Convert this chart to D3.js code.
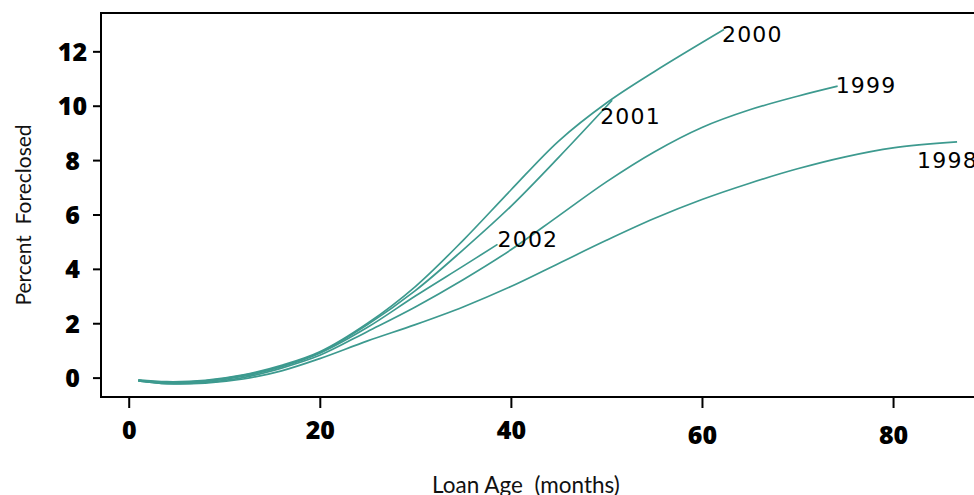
<!DOCTYPE html>
<html>
<head>
<meta charset="utf-8">
<script src="https://cdn.jsdelivr.net/npm/d3@7"></script>
<style>
  body { margin: 0; background: #fff; }
  svg { display: block; }
  .tick text { font-family: "Open Sans", Lato, sans-serif; font-weight: 800; font-size: 25px; fill: #000; }
  .tick line { stroke: #000; stroke-width: 2; }
  .axisTitle { font-family: Lato, "Open Sans", sans-serif; fill: #111; white-space: pre; }
  .seriesLabel { font-family: "DejaVu Sans", sans-serif; font-size: 22px; fill: #000; letter-spacing: 1.2px; }
</style>
</head>
<body>
<div id="chart"></div>
<script>
var svgWidth = 974;
var svgHeight = 495;

// loan age (months) and percent foreclosed
var years = ["1998", "1999", "2000", "2001", "2002"];

var age1998 = [1, 4, 8, 12, 16, 20, 25, 30, 35, 40, 45, 50, 55, 60, 65, 70, 75, 80, 86.7];
var pct1998 = [-0.12, -0.22, -0.2, -0.05, 0.25, 0.7, 1.35, 1.95, 2.6, 3.35, 4.2, 5.05, 5.85, 6.55, 7.15, 7.68, 8.12, 8.45, 8.67];

var age1999 = [1, 4, 8, 12, 16, 20, 25, 30, 35, 40, 45, 50, 55, 60, 65, 70, 74.2];
var pct1999 = [-0.12, -0.22, -0.18, 0.0, 0.35, 0.82, 1.7, 2.6, 3.6, 4.7, 5.95, 7.2, 8.3, 9.2, 9.85, 10.35, 10.72];

var age2000 = [1, 4, 8, 12, 16, 20, 25, 30, 35, 40, 45, 50, 55, 62.3];
var pct2000 = [-0.08, -0.15, -0.1, 0.1, 0.45, 0.95, 2.0, 3.35, 5.05, 6.9, 8.7, 10.1, 11.25, 12.8];

var age2001 = [1, 4, 8, 12, 16, 20, 25, 30, 35, 40, 45, 50.6];
var pct2001 = [-0.1, -0.18, -0.12, 0.08, 0.42, 0.92, 1.95, 3.2, 4.7, 6.3, 8.1, 10.2];

var age2002 = [1, 4, 8, 12, 16, 20, 25, 30, 35, 38.6];
var pct2002 = [-0.1, -0.2, -0.15, 0.05, 0.4, 0.9, 1.85, 3.0, 4.1, 4.9];

var xTicks = [0, 20, 40, 60, 80];
var yTicks = [0, 2, 4, 6, 8, 10, 12];

var ages = { "1998": age1998, "1999": age1999, "2000": age2000, "2001": age2001, "2002": age2002 };
var pcts = { "1998": pct1998, "1999": pct1999, "2000": pct2000, "2001": pct2001, "2002": pct2002 };

// label nudges from the end of each curve (px)
var labelNudge = {
    "1998": [-40, 26],
    "1999": [-2, 7],
    "2000": [-2, 12],
    "2001": [-12, 24],
    "2002": [0, 3]
};

var margin = { top: 13, right: -6, bottom: 98, left: 101 };

var width = svgWidth - margin.left - margin.right;
var height = svgHeight - margin.top - margin.bottom;

var svg = d3.select("#chart")
    .append("svg")
    .attr("width", svgWidth)
    .attr("height", svgHeight);

var chartGroup = svg.append("g")
    .attr("transform", `translate(${margin.left}, ${margin.top})`);

/********************************************************/

var xScale = d3.scaleLinear()
    .domain([-2.9, 89.1])
    .range([0, width]);

var yScale = d3.scaleLinear()
    .domain([-0.713, 13.41])
    .range([height, 0]);

/********************************************************/

var bottomAxis = d3.axisBottom(xScale)
    .tickValues(xTicks)
    .tickSize(11)
    .tickSizeOuter(0);

var leftAxis = d3.axisLeft(yScale)
    .tickValues(yTicks)
    .tickSize(8)
    .tickSizeOuter(0);

var xAxisG = chartGroup.append("g")
    .attr("transform", `translate(0, ${height})`)
    .call(bottomAxis);
xAxisG.select(".domain").remove();
xAxisG.selectAll(".tick text")
    .attr("dy", 0)
    .attr("y", d => d >= 60 ? 47 : 42);

var yAxisG = chartGroup.append("g")
    .call(leftAxis);
yAxisG.select(".domain").remove();
yAxisG.selectAll(".tick text")
    .attr("text-anchor", "middle")
    .attr("x", -28.5)
    .attr("dy", "0.36em");

chartGroup.append("rect")
    .attr("x", 0)
    .attr("y", 0)
    .attr("width", width)
    .attr("height", height)
    .attr("fill", "none")
    .attr("stroke", "#000")
    .attr("stroke-width", 2);

/********************************************************/

var line = d3.line()
    .x(d => xScale(d[0]))
    .y(d => yScale(d[1]))
    .curve(d3.curveCatmullRom.alpha(0.5));

years.forEach(function (yr) {
    var pts = ages[yr].map((a, i) => [a, pcts[yr][i]]);

    chartGroup.append("path")
        .datum(pts)
        .attr("d", line)
        .attr("fill", "none")
        .attr("stroke", "#3d9a8f")
        .attr("stroke-width", 1.7);

    var last = pts[pts.length - 1];
    chartGroup.append("text")
        .attr("class", "seriesLabel")
        .attr("x", xScale(last[0]) + labelNudge[yr][0])
        .attr("y", yScale(last[1]) + labelNudge[yr][1])
        .text(yr);
});

/********************************************************/

svg.append("text")
    .attr("class", "axisTitle")
    .attr("transform", "translate(31, 215) rotate(-90)")
    .attr("text-anchor", "middle")
    .attr("font-size", 21)
    .text("Percent  Foreclosed");

svg.append("text")
    .attr("class", "axisTitle")
    .attr("x", 526)
    .attr("y", 493)
    .attr("text-anchor", "middle")
    .attr("font-size", 22.5)
    .text("Loan Age  (months)");
</script>
</body>
</html>
